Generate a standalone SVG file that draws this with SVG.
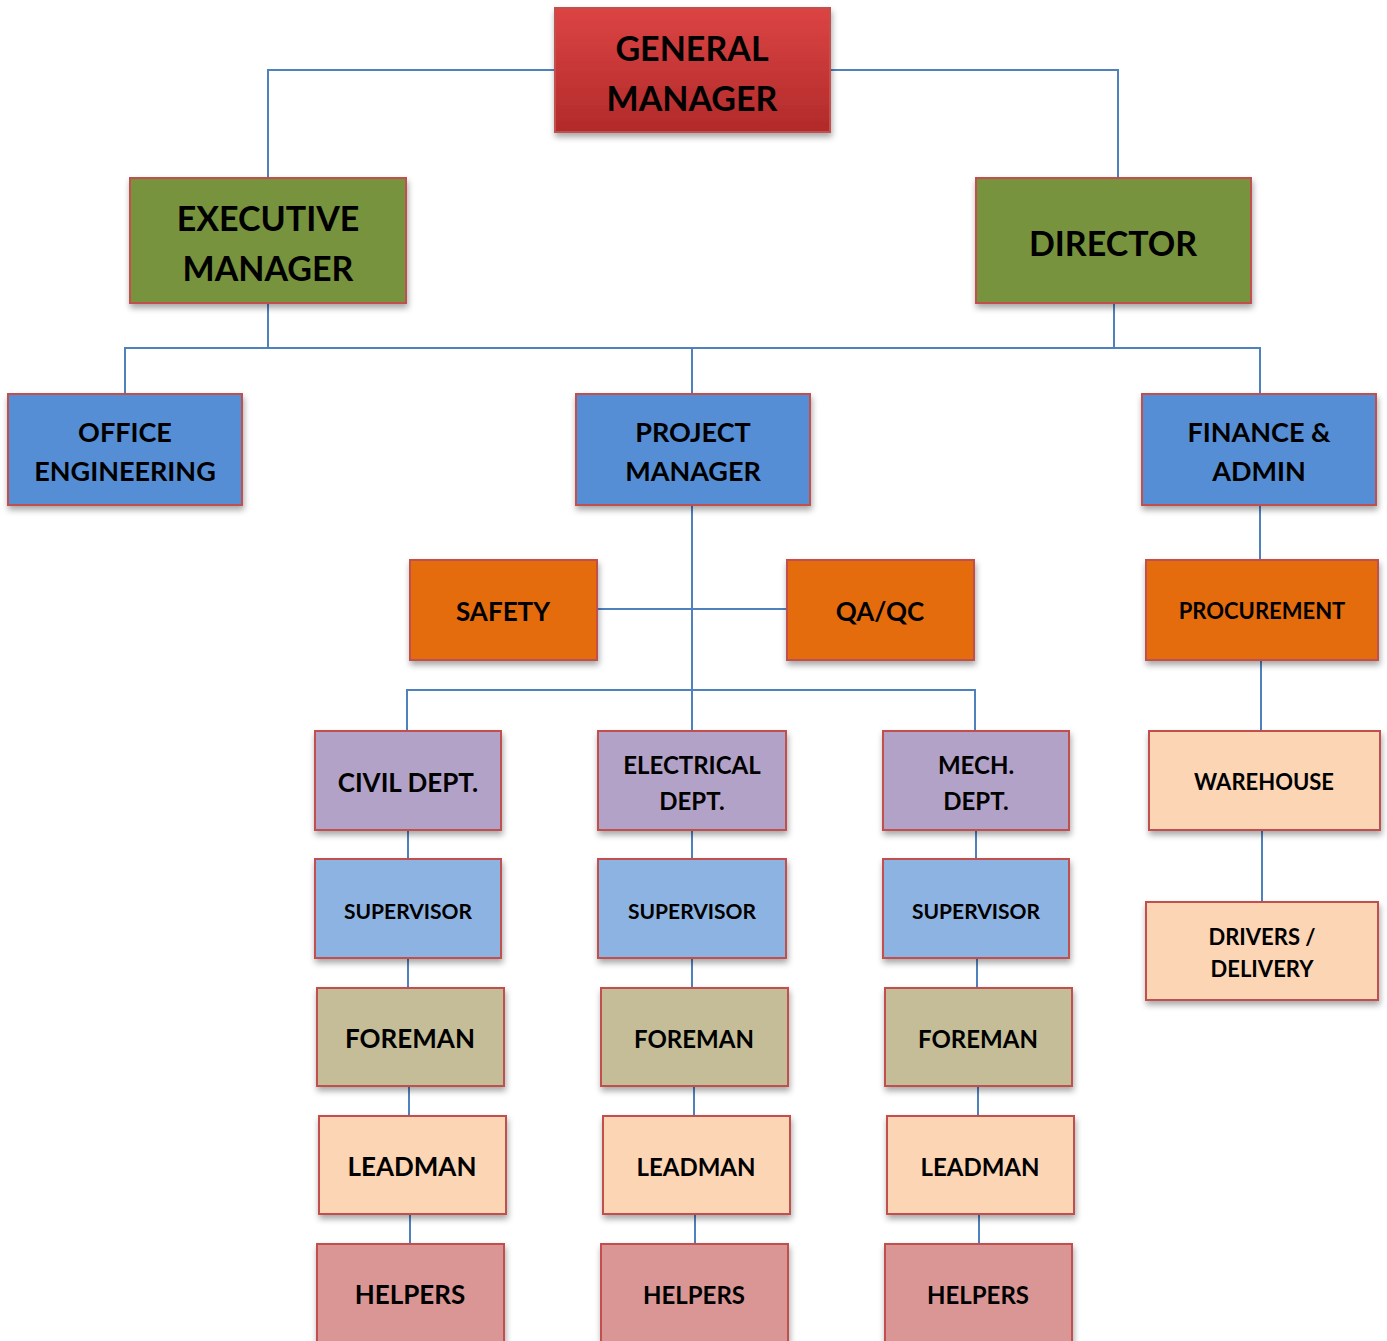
<svg xmlns="http://www.w3.org/2000/svg" width="1387" height="1341" viewBox="0 0 1387 1341">
<style>
.n{stroke:#c0504d;stroke-width:2;filter:url(#sh)}
.t{font-family:Lato,"Open Sans","Liberation Sans",sans-serif;font-weight:bold;fill:#000;text-anchor:middle;dominant-baseline:central}
.c{stroke:#4f81bd;stroke-width:2;fill:none}
.red{fill:url(#gr)}
.grn{fill:#77933c}
.blu{fill:#558ed5}
.org{fill:#e46c0a}
.pur{fill:#b3a2c7}
.sup{fill:#8db3e2}
.frm{fill:#c4bd97}
.pch{fill:#fcd5b5}
.hlp{fill:#d99694}
</style>
<defs>
<linearGradient id="gr" x1="0" y1="0" x2="0" y2="1"><stop offset="0" stop-color="#dc4444"/><stop offset="1" stop-color="#b12a2a"/></linearGradient>
<filter id="sh" x="-10%" y="-10%" width="125%" height="130%"><feDropShadow dx="1" dy="4" stdDeviation="3" flood-color="#000" flood-opacity="0.35"/></filter>
</defs>
<g id="connectors">
<path class="c" d="M555,70H268V178M830,70H1118V178"/>
<path class="c" d="M268,303V348M1114,303V348M125,394V348H1260V394M692,348V394"/>
<path class="c" d="M692,505V731M597,609H787M407,731V690H975V731"/>
<path class="c" d="M1260,505V560M1261,660V731M1262,830V902"/>
<path class="c" d="M408,830V859M408,958V988M409,1086V1116M410,1214V1244"/>
<path class="c" d="M692,830V859M692,958V988M694,1086V1116M695,1214V1244"/>
<path class="c" d="M976,830V859M977,958V988M978,1086V1116M979,1214V1244"/>
</g>
<g id="gm"><rect class="n red" x="555" y="8" width="275" height="124"/><text class="t" font-size="34" x="692" y="47">GENERAL</text><text class="t" font-size="34" x="692" y="97">MANAGER</text></g>
<g id="em"><rect class="n grn" x="130" y="178" width="276" height="125"/><text class="t" font-size="34" x="268" y="217">EXECUTIVE</text><text class="t" font-size="34" x="268" y="267">MANAGER</text></g>
<g id="dir"><rect class="n grn" x="976" y="178" width="275" height="125"/><text class="t" font-size="34" x="1113" y="242">DIRECTOR</text></g>
<g id="oe"><rect class="n blu" x="8" y="394" width="234" height="111"/><text class="t" font-size="27" x="125" y="431">OFFICE</text><text class="t" font-size="27" x="125" y="470">ENGINEERING</text></g>
<g id="pm"><rect class="n blu" x="576" y="394" width="234" height="111"/><text class="t" font-size="27" x="693" y="431">PROJECT</text><text class="t" font-size="27" x="693" y="470">MANAGER</text></g>
<g id="fa"><rect class="n blu" x="1142" y="394" width="234" height="111"/><text class="t" font-size="27" x="1259" y="431">FINANCE &amp;</text><text class="t" font-size="27" x="1259" y="470">ADMIN</text></g>
<g id="safety"><rect class="n org" x="410" y="560" width="187" height="100"/><text class="t" font-size="26" x="503" y="611">SAFETY</text></g>
<g id="qaqc"><rect class="n org" x="787" y="560" width="187" height="100"/><text class="t" font-size="26" x="880" y="611">QA/QC</text></g>
<g id="proc"><rect class="n org" x="1146" y="560" width="232" height="100"/><text class="t" font-size="22" x="1262" y="610">PROCUREMENT</text></g>
<g id="wh"><rect class="n pch" x="1149" y="731" width="231" height="99"/><text class="t" font-size="22" x="1264" y="781">WAREHOUSE</text></g>
<g id="drv"><rect class="n pch" x="1146" y="902" width="232" height="98"/><text class="t" font-size="22" x="1262" y="936">DRIVERS /</text><text class="t" font-size="22" x="1262" y="968">DELIVERY</text></g>
<g id="civil"><rect class="n pur" x="315" y="731" width="186" height="99"/><text class="t" font-size="26" x="408" y="782">CIVIL DEPT.</text></g>
<g id="elec"><rect class="n pur" x="598" y="731" width="188" height="99"/><text class="t" font-size="24" x="692" y="764">ELECTRICAL</text><text class="t" font-size="24" x="692" y="800">DEPT.</text></g>
<g id="mech"><rect class="n pur" x="883" y="731" width="186" height="99"/><text class="t" font-size="24" x="976" y="764">MECH.</text><text class="t" font-size="24" x="976" y="800">DEPT.</text></g>
<g id="sup1"><rect class="n sup" x="315" y="859" width="186" height="99"/><text class="t" font-size="21" x="408" y="910">SUPERVISOR</text></g>
<g id="sup2"><rect class="n sup" x="598" y="859" width="188" height="99"/><text class="t" font-size="21" x="692" y="910">SUPERVISOR</text></g>
<g id="sup3"><rect class="n sup" x="883" y="859" width="186" height="99"/><text class="t" font-size="21" x="976" y="910">SUPERVISOR</text></g>
<g id="fm1"><rect class="n frm" x="317" y="988" width="187" height="98"/><text class="t" font-size="26" x="410" y="1038">FOREMAN</text></g>
<g id="fm2"><rect class="n frm" x="601" y="988" width="187" height="98"/><text class="t" font-size="24" x="694" y="1038">FOREMAN</text></g>
<g id="fm3"><rect class="n frm" x="885" y="988" width="187" height="98"/><text class="t" font-size="24" x="978" y="1038">FOREMAN</text></g>
<g id="lm1"><rect class="n pch" x="319" y="1116" width="187" height="98"/><text class="t" font-size="26" x="412" y="1166">LEADMAN</text></g>
<g id="lm2"><rect class="n pch" x="603" y="1116" width="187" height="98"/><text class="t" font-size="24" x="696" y="1166">LEADMAN</text></g>
<g id="lm3"><rect class="n pch" x="887" y="1116" width="187" height="98"/><text class="t" font-size="24" x="980" y="1166">LEADMAN</text></g>
<g id="hp1"><rect class="n hlp" x="317" y="1244" width="187" height="110"/><text class="t" font-size="26" x="410" y="1294">HELPERS</text></g>
<g id="hp2"><rect class="n hlp" x="601" y="1244" width="187" height="110"/><text class="t" font-size="24" x="694" y="1294">HELPERS</text></g>
<g id="hp3"><rect class="n hlp" x="885" y="1244" width="187" height="110"/><text class="t" font-size="24" x="978" y="1294">HELPERS</text></g>
</svg>
